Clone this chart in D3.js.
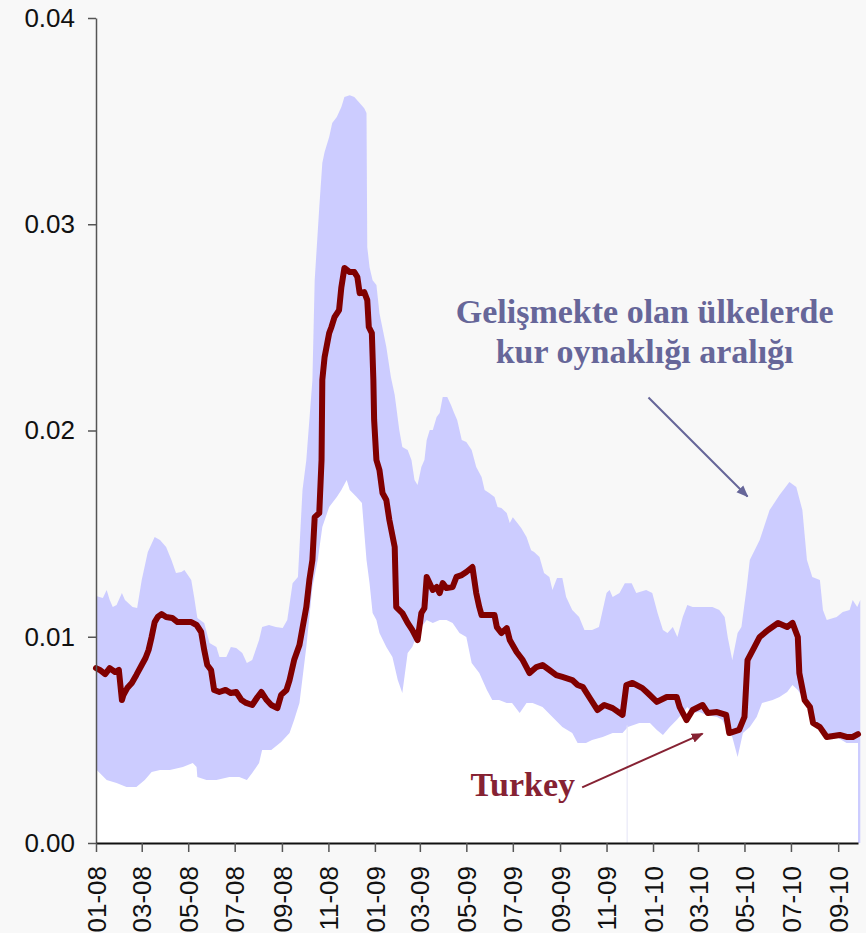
<!DOCTYPE html>
<html>
<head>
<meta charset="utf-8">
<script src="https://cdn.jsdelivr.net/npm/d3@7/dist/d3.min.js"></script>
<style>
  html, body { margin: 0; padding: 0; background: #f8f8f8; }
  svg { display: block; }
</style>
</head>
<body>
<svg id="chart" width="866" height="933"></svg>
<script>
// Turkey: exchange-rate volatility
const turkeyDates = ["2008-01-01","2008-01-06","2008-01-13","2008-01-19","2008-01-26","2008-01-31","2008-02-04","2008-02-06","2008-02-11","2008-02-17","2008-02-23","2008-03-01","2008-03-06","2008-03-10","2008-03-14","2008-03-18","2008-03-22","2008-03-27","2008-04-02","2008-04-10","2008-04-17","2008-04-26","2008-05-05","2008-05-12","2008-05-18","2008-05-22","2008-05-26","2008-05-31","2008-06-04","2008-06-11","2008-06-19","2008-06-26","2008-07-03","2008-07-10","2008-07-16","2008-07-24","2008-07-31","2008-08-05","2008-08-12","2008-08-18","2008-08-26","2008-08-31","2008-09-07","2008-09-11","2008-09-17","2008-09-24","2008-09-28","2008-10-03","2008-10-07","2008-10-11","2008-10-14","2008-10-20","2008-10-23","2008-10-24","2008-10-27","2008-11-02","2008-11-05","2008-11-09","2008-11-15","2008-11-18","2008-11-22","2008-11-29","2008-12-05","2008-12-09","2008-12-12","2008-12-18","2008-12-22","2008-12-24","2008-12-28","2008-12-30","2008-12-31","2009-01-03","2009-01-07","2009-01-11","2009-01-16","2009-01-20","2009-01-27","2009-01-29","2009-02-06","2009-02-13","2009-02-19","2009-02-26","2009-03-03","2009-03-07","2009-03-10","2009-03-18","2009-03-23","2009-03-27","2009-03-31","2009-04-05","2009-04-13","2009-04-18","2009-04-25","2009-05-01","2009-05-09","2009-05-14","2009-05-18","2009-05-21","2009-05-28","2009-06-07","2009-06-10","2009-06-16","2009-06-23","2009-06-27","2009-07-06","2009-07-14","2009-07-23","2009-08-01","2009-08-09","2009-08-18","2009-08-27","2009-09-04","2009-09-17","2009-09-24","2009-10-01","2009-10-10","2009-10-20","2009-10-29","2009-11-09","2009-11-22","2009-11-27","2009-12-05","2009-12-18","2009-12-25","2010-01-06","2010-01-19","2010-02-01","2010-02-05","2010-02-14","2010-02-22","2010-03-07","2010-03-14","2010-03-26","2010-04-07","2010-04-11","2010-04-24","2010-05-01","2010-05-05","2010-05-14","2010-05-21","2010-06-01","2010-06-14","2010-06-26","2010-07-03","2010-07-10","2010-07-12","2010-07-19","2010-07-26","2010-07-30","2010-08-08","2010-08-17","2010-09-03","2010-09-12","2010-09-20","2010-09-27"];
const turkeyValues = [0.00848,0.00839,0.00819,0.00848,0.00829,0.00839,0.00693,0.00718,0.00751,0.00776,0.00815,0.00863,0.00897,0.00936,0.00999,0.01071,0.01096,0.01110,0.01096,0.01091,0.01071,0.01071,0.01071,0.01057,0.01023,0.00936,0.00863,0.00839,0.00742,0.00732,0.00742,0.00727,0.00732,0.00693,0.00679,0.00669,0.00708,0.00732,0.00693,0.00669,0.00654,0.00718,0.00742,0.00790,0.00887,0.00960,0.01042,0.01144,0.01275,0.01372,0.01580,0.01600,0.01857,0.02245,0.02356,0.02472,0.02502,0.02550,0.02584,0.02695,0.02788,0.02768,0.02768,0.02744,0.02666,0.02671,0.02632,0.02502,0.02472,0.02245,0.02051,0.01857,0.01808,0.01697,0.01663,0.01566,0.01435,0.01144,0.01115,0.01067,0.01033,0.00984,0.01115,0.01139,0.01290,0.01227,0.01241,0.01212,0.01260,0.01236,0.01241,0.01290,0.01299,0.01314,0.01338,0.01212,0.01144,0.01105,0.01105,0.01105,0.01047,0.01018,0.01042,0.00984,0.00926,0.00887,0.00824,0.00853,0.00863,0.00839,0.00814,0.00805,0.00790,0.00766,0.00756,0.00703,0.00645,0.00669,0.00654,0.00621,0.00766,0.00776,0.00751,0.00727,0.00684,0.00708,0.00708,0.00659,0.00596,0.00645,0.00669,0.00630,0.00635,0.00621,0.00533,0.00548,0.00611,0.00887,0.00950,0.00999,0.01033,0.01067,0.01047,0.01067,0.00999,0.00824,0.00693,0.00659,0.00582,0.00562,0.00514,0.00524,0.00514,0.00514,0.00528];

// Emerging markets range: upper edge
const upperDates = ["2008-01-01","2008-01-10","2008-01-15","2008-01-19","2008-01-23","2008-01-28","2008-02-04","2008-02-08","2008-02-18","2008-02-24","2008-03-01","2008-03-09","2008-03-18","2008-03-25","2008-04-02","2008-04-09","2008-04-15","2008-04-22","2008-04-26","2008-05-05","2008-05-09","2008-05-13","2008-05-22","2008-05-29","2008-06-07","2008-06-11","2008-06-20","2008-06-26","2008-07-03","2008-07-11","2008-07-17","2008-07-24","2008-08-02","2008-08-06","2008-08-15","2008-08-24","2008-09-02","2008-09-08","2008-09-15","2008-09-22","2008-09-28","2008-10-03","2008-10-11","2008-10-14","2008-10-20","2008-10-24","2008-10-27","2008-11-02","2008-11-06","2008-11-12","2008-11-18","2008-11-22","2008-11-29","2008-12-05","2008-12-12","2008-12-18","2008-12-21","2008-12-22","2008-12-25","2008-12-29","2009-01-03","2009-01-07","2009-01-16","2009-01-22","2009-01-27","2009-02-02","2009-02-06","2009-02-13","2009-02-18","2009-02-22","2009-02-26","2009-03-03","2009-03-07","2009-03-10","2009-03-14","2009-03-18","2009-03-23","2009-03-27","2009-03-31","2009-04-06","2009-04-11","2009-04-15","2009-04-19","2009-04-25","2009-05-01","2009-05-08","2009-05-14","2009-05-21","2009-05-25","2009-05-31","2009-06-07","2009-06-11","2009-06-16","2009-06-23","2009-06-27","2009-07-01","2009-07-07","2009-07-12","2009-07-19","2009-07-25","2009-07-29","2009-08-05","2009-08-11","2009-08-18","2009-08-22","2009-08-28","2009-09-04","2009-09-09","2009-09-17","2009-09-26","2009-10-03","2009-10-13","2009-10-22","2009-11-01","2009-11-05","2009-11-09","2009-11-18","2009-11-25","2009-12-04","2009-12-10","2009-12-23","2009-12-31","2010-01-07","2010-01-14","2010-01-20","2010-01-27","2010-02-02","2010-02-09","2010-02-15","2010-02-22","2010-03-12","2010-03-20","2010-03-29","2010-04-05","2010-04-09","2010-04-15","2010-04-22","2010-04-27","2010-05-04","2010-05-08","2010-05-21","2010-06-03","2010-06-16","2010-06-29","2010-07-08","2010-07-16","2010-07-22","2010-07-29","2010-08-08","2010-08-12","2010-08-17","2010-08-30","2010-09-07","2010-09-16","2010-09-20","2010-09-26","2010-09-30"];
const upperValues = [0.01198,0.01188,0.01227,0.01178,0.01144,0.01154,0.01212,0.01178,0.01144,0.01139,0.01275,0.01411,0.01484,0.01469,0.01435,0.01372,0.01309,0.01314,0.01324,0.01275,0.01188,0.01091,0.01067,0.00970,0.00950,0.00902,0.00902,0.00950,0.00945,0.00921,0.00873,0.00887,0.00984,0.01047,0.01057,0.01047,0.01042,0.01081,0.01260,0.01290,0.01711,0.01857,0.02245,0.02729,0.03083,0.03297,0.03350,0.03423,0.03491,0.03520,0.03568,0.03617,0.03626,0.03617,0.03588,0.03563,0.03539,0.02889,0.02792,0.02729,0.02705,0.02569,0.02405,0.02259,0.02172,0.02002,0.01920,0.01905,0.01857,0.01760,0.01736,0.01823,0.01857,0.01954,0.02002,0.02002,0.02065,0.02085,0.02162,0.02162,0.02123,0.02085,0.02051,0.01954,0.01944,0.01905,0.01823,0.01774,0.01711,0.01697,0.01677,0.01629,0.01624,0.01600,0.01551,0.01580,0.01551,0.01527,0.01484,0.01420,0.01411,0.01387,0.01309,0.01290,0.01227,0.01285,0.01285,0.01193,0.01130,0.01096,0.01033,0.01033,0.01047,0.01212,0.01227,0.01193,0.01212,0.01260,0.01260,0.01212,0.01227,0.01212,0.01115,0.01033,0.01018,0.01047,0.00999,0.01096,0.01154,0.01144,0.01144,0.01144,0.01130,0.01096,0.00999,0.00887,0.01018,0.01047,0.01241,0.01372,0.01469,0.01614,0.01687,0.01750,0.01726,0.01614,0.01372,0.01290,0.01275,0.01130,0.01081,0.01096,0.01120,0.01130,0.01178,0.01144,0.01178];

// Emerging markets range: lower edge
const lowerDates = ["2008-01-01","2008-01-02","2008-01-15","2008-01-28","2008-02-10","2008-02-23","2008-03-05","2008-03-14","2008-03-25","2008-04-07","2008-04-24","2008-05-07","2008-05-12","2008-05-13","2008-05-25","2008-06-07","2008-06-24","2008-07-07","2008-07-17","2008-07-24","2008-08-02","2008-08-06","2008-08-18","2008-08-31","2008-09-11","2008-09-17","2008-09-24","2008-10-03","2008-10-11","2008-10-18","2008-10-24","2008-11-02","2008-11-12","2008-11-18","2008-11-25","2008-11-29","2008-12-08","2008-12-15","2008-12-21","2008-12-25","2008-12-29","2009-01-03","2009-01-07","2009-01-16","2009-01-24","2009-01-31","2009-02-06","2009-02-13","2009-02-19","2009-02-28","2009-03-10","2009-03-18","2009-03-27","2009-04-05","2009-04-13","2009-04-22","2009-05-01","2009-05-08","2009-05-18","2009-05-28","2009-06-04","2009-06-13","2009-06-23","2009-06-30","2009-07-10","2009-07-19","2009-07-27","2009-08-09","2009-08-22","2009-09-04","2009-09-17","2009-09-24","2009-10-05","2009-10-13","2009-10-27","2009-11-09","2009-11-22","2009-11-29","2009-12-14","2009-12-28","2010-01-06","2010-01-14","2010-01-23","2010-02-01","2010-02-09","2010-02-15","2010-02-22","2010-03-03","2010-03-12","2010-03-26","2010-04-02","2010-04-09","2010-04-15","2010-04-22","2010-04-29","2010-05-08","2010-05-17","2010-05-24","2010-06-07","2010-06-16","2010-06-26","2010-07-03","2010-07-10","2010-07-16","2010-07-22","2010-07-29","2010-08-08","2010-08-17","2010-08-30","2010-09-12","2010-09-27"];
const lowerValues = [0.00364,0.00354,0.00305,0.00291,0.00271,0.00271,0.00305,0.00344,0.00354,0.00354,0.00368,0.00388,0.00368,0.00320,0.00305,0.00305,0.00320,0.00320,0.00305,0.00339,0.00388,0.00451,0.00451,0.00490,0.00533,0.00596,0.00679,0.00950,0.01241,0.01372,0.01532,0.01629,0.01677,0.01711,0.01760,0.01711,0.01677,0.01648,0.01372,0.01260,0.01115,0.01081,0.01018,0.00950,0.00902,0.00790,0.00727,0.00921,0.00950,0.01033,0.01081,0.01067,0.01081,0.01081,0.01067,0.01018,0.00999,0.00873,0.00824,0.00742,0.00693,0.00693,0.00679,0.00679,0.00630,0.00679,0.00679,0.00659,0.00611,0.00562,0.00533,0.00485,0.00485,0.00499,0.00514,0.00533,0.00533,0.00562,0.00582,0.00582,0.00548,0.00524,0.00562,0.00596,0.00630,0.00659,0.00630,0.00635,0.00621,0.00611,0.00596,0.00548,0.00514,0.00417,0.00533,0.00562,0.00611,0.00679,0.00693,0.00708,0.00732,0.00766,0.00742,0.00708,0.00659,0.00596,0.00562,0.00533,0.00514,0.00485,0.00485];

const yTickValues = [0, 0.01, 0.02, 0.03, 0.04];
const xStart = "2008-01-01";
const xEnd = "2010-09-27";
const bandLabel = ["Gelişmekte olan ülkelerde", "kur oynaklığı aralığı"];
const turkeyLabel = "Turkey";

const parse = d3.timeParse("%Y-%m-%d");
const toSeries = (dates, values) => dates.map((d, i) => ({ date: parse(d), value: values[i] }));
const turkey = toSeries(turkeyDates, turkeyValues);
const upper = toSeries(upperDates, upperValues);
const lower = toSeries(lowerDates, lowerValues);

const svg = d3.select("#chart");
const margin = { left: 96, right: 8, top: 18, bottom: 90 };
const W = 866, H = 933;

const x = d3.scaleTime()
  .domain([parse(xStart), parse(xEnd)])
  .range([margin.left, W - margin.right]);
const y = d3.scaleLinear()
  .domain([0, 0.04])
  .range([H - margin.bottom, margin.top]);

// band: fill under upper edge, then clear under lower edge
const areaGen = d3.area()
  .x(d => x(d.date))
  .y0(y(0))
  .y1(d => y(d.value));

svg.append("path")
  .datum(upper)
  .attr("fill", "#ccccff")
  .attr("d", areaGen);

svg.append("path")
  .datum(lower)
  .attr("fill", "#ffffff")
  .attr("d", areaGen);

// faint seam in the lower fill at the turn of 2009/2010
const seamDate = parse("2009-11-28");
svg.append("line")
  .attr("x1", x(seamDate)).attr("x2", x(seamDate))
  .attr("y1", y(0)).attr("y2", y(0.0057))
  .attr("stroke", "#e4e4f6")
  .attr("stroke-width", 1);

// Turkey line
svg.append("path")
  .datum(turkey)
  .attr("fill", "none")
  .attr("stroke", "#800000")
  .attr("stroke-width", 6)
  .attr("stroke-linejoin", "round")
  .attr("stroke-linecap", "round")
  .attr("d", d3.line().x(d => x(d.date)).y(d => y(d.value)));

// axes
const yAxis = d3.axisLeft(y)
  .tickValues(yTickValues)
  .tickFormat(d3.format(".2f"))
  .tickSizeInner(8)
  .tickSizeOuter(0)
  .tickPadding(13);
const gy = svg.append("g")
  .attr("transform", `translate(${margin.left},0)`)
  .call(yAxis);
gy.select(".domain").attr("stroke", "#555").attr("stroke-width", 1.5);
gy.selectAll(".tick line").attr("stroke", "#555").attr("stroke-width", 1.5);
gy.selectAll(".tick text")
  .attr("font-family", "'Liberation Sans', Arial, sans-serif")
  .attr("font-size", 26)
  .attr("fill", "#111");

const xAxis = d3.axisBottom(x)
  .ticks(d3.timeMonth.every(2))
  .tickFormat(d3.timeFormat("%m-%y"))
  .tickSizeInner(9)
  .tickSizeOuter(0)
  .tickPadding(12);
const gx = svg.append("g")
  .attr("transform", `translate(0,${y(0)})`)
  .call(xAxis);
gx.select(".domain").attr("stroke", "#111").attr("stroke-width", 2);
gx.selectAll(".tick line").attr("stroke", "#555").attr("stroke-width", 1.5);
gx.selectAll(".tick text")
  .attr("font-family", "'Liberation Sans', Arial, sans-serif")
  .attr("font-size", 26)
  .attr("fill", "#111")
  .attr("text-anchor", "end")
  .attr("dy", "0.35em")
  .attr("transform", "rotate(-90)")
  .attr("x", -23)
  .attr("y", 0);

// annotations
const defs = svg.append("defs");
function marker(id, color) {
  defs.append("marker")
    .attr("id", id)
    .attr("viewBox", "0 0 10 10")
    .attr("refX", 9).attr("refY", 5)
    .attr("markerWidth", 6).attr("markerHeight", 6)
    .attr("markerUnits", "strokeWidth")
    .attr("orient", "auto")
    .append("path")
    .attr("d", "M0,1 L10,5 L0,9 Z")
    .attr("fill", color);
}
marker("arrBand", "#666699");
marker("arrTurkey", "#862233");

const bandText = svg.append("text")
  .attr("font-family", "'Liberation Serif', 'Times New Roman', serif")
  .attr("font-weight", "bold")
  .attr("font-size", 34)
  .attr("fill", "#666699")
  .attr("text-anchor", "middle");
bandLabel.forEach((t, i) => {
  bandText.append("tspan")
    .attr("x", x(parse("2009-12-21")))
    .attr("y", y(0.0252) + i * 40)
    .text(t);
});

svg.append("line")
  .attr("x1", x(parse("2009-12-26"))).attr("y1", y(0.0216))
  .attr("x2", x(parse("2010-05-05"))).attr("y2", y(0.0168))
  .attr("stroke", "#666699")
  .attr("stroke-width", 2)
  .attr("marker-end", "url(#arrBand)");

svg.append("text")
  .attr("x", x(parse("2009-07-14")))
  .attr("y", y(0.0023))
  .attr("font-family", "'Liberation Serif', 'Times New Roman', serif")
  .attr("font-weight", "bold")
  .attr("font-size", 34)
  .attr("fill", "#862233")
  .attr("text-anchor", "middle")
  .text(turkeyLabel);

svg.append("line")
  .attr("x1", x(parse("2009-09-30"))).attr("y1", y(0.0027))
  .attr("x2", x(parse("2010-03-07"))).attr("y2", y(0.0053))
  .attr("stroke", "#862233")
  .attr("stroke-width", 2)
  .attr("marker-end", "url(#arrTurkey)");
</script>
</body>
</html>
